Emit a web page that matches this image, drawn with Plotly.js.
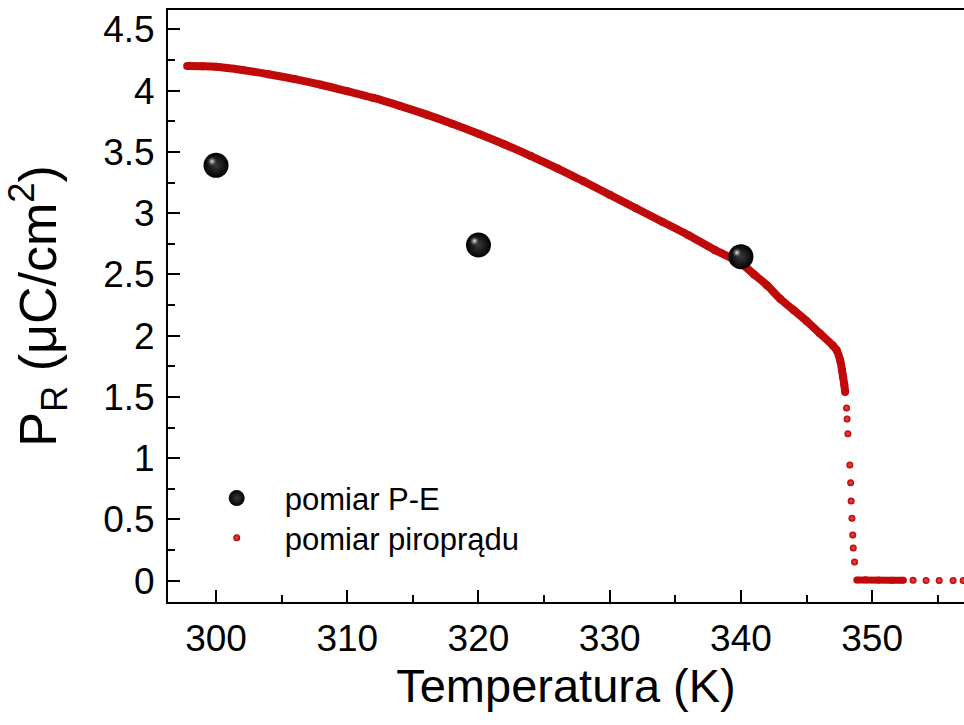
<!DOCTYPE html>
<html>
<head>
<meta charset="utf-8">
<script src="https://cdn.plot.ly/plotly-3.0.1.min.js"></script>
<style>html,body{margin:0;padding:0;background:#fff;}#chart{width:964px;height:725px;}</style>
</head>
<body>
<div id="chart"></div>
<script>
// P-E measurement (black spheres)
const peTemp = [300, 320, 340];
const pePol = [3.39, 2.74, 2.645];

// pyroelectric measurement: continuous dense part
const pyroTempCont = [297.8, 299, 300, 302, 304, 306, 308, 310, 312, 314, 316, 318, 320, 322, 324, 326, 328, 330, 332, 334, 336, 338, 340, 341, 342, 343, 344, 345, 346, 347, 347.3, 347.56, 347.7, 347.79, 347.88, 347.94];
const pyroPolCont = [4.200, 4.199, 4.194, 4.168, 4.134, 4.094, 4.048, 3.995, 3.94, 3.876, 3.806, 3.730, 3.648, 3.560, 3.466, 3.366, 3.260, 3.150, 3.04, 2.93, 2.82, 2.70, 2.59, 2.50, 2.41, 2.30, 2.21, 2.12, 2.02, 1.92, 1.88, 1.80, 1.72, 1.66, 1.60, 1.54];
// separated points of the drop at the transition
const pyroTempDrop = [348.05, 348.09, 348.15, 348.30, 348.36, 348.40, 348.46, 348.52, 348.56, 348.66];
const pyroPolDrop = [1.41, 1.32, 1.20, 0.945, 0.80, 0.65, 0.51, 0.373, 0.266, 0.152];
// dense flat part above the transition
const pyroTempFlat = [348.83, 349.5, 350.5, 351.5, 352.38];
const pyroPolFlat = [0.005, 0.008, 0.006, 0.004, 0.004];
// sparse tail
const pyroTempTail = [353.12, 354.11, 355.11, 356.17, 356.94];
const pyroPolTail = [0.003, 0.002, 0.002, 0.002, 0.002];

const xTickVals = [300, 310, 320, 330, 340, 350];
const yTickVals = [0, 0.5, 1, 1.5, 2, 2.5, 3, 3.5, 4, 4.5];
const yTickText = ['0', '0.5', '1', '1.5', '2', '2.5', '3', '3.5', '4', '4.5'];

const RED = '#c00a0a';
const FONT = 'Liberation Sans, Arial, sans-serif';

const xRange = [296.34, 357.0];
const yRange = [-0.174, 4.658];
// highlight overlay axes, shifted by a few pixels (up-left)
const pxPerK = 796 / (xRange[1] - xRange[0]);
const pxPerU = 592 / (yRange[1] - yRange[0]);
const dx = 4 / pxPerK, dy = 4 / pxPerU;

const traces = [
  {x: pyroTempCont, y: pyroPolCont, mode: 'lines+markers', line: {color: RED, width: 8, shape: 'spline'},
   marker: {color: RED, size: 8}, showlegend: false, hoverinfo: 'skip'},
  {x: pyroTempFlat, y: pyroPolFlat, mode: 'lines+markers', line: {color: RED, width: 7},
   marker: {color: RED, size: 7}, showlegend: false, hoverinfo: 'skip'},
  {x: pyroTempDrop.concat(pyroTempTail), y: pyroPolDrop.concat(pyroPolTail), mode: 'markers',
   name: 'pomiar piroprądu', legend: 'legend2',
   marker: {color: '#b80000', size: 7, gradient: {type: 'radial', color: '#e85050'}}},
  {x: peTemp, y: pePol, mode: 'markers', name: 'pomiar P-E', legend: 'legend',
   marker: {color: '#000', size: 25, gradient: {type: 'radial', color: '#3a3a3a'}}},
  {x: peTemp, y: pePol, mode: 'markers', xaxis: 'x2', yaxis: 'y2', showlegend: false, hoverinfo: 'skip',
   marker: {color: 'rgba(80,80,80,0)', size: 10, gradient: {type: 'radial', color: '#f4f4f4'}}}
];

const legendBase = {xanchor: 'left', yanchor: 'middle', bgcolor: 'rgba(0,0,0,0)',
  font: {size: 31, family: FONT}, itemwidth: 86, tracegroupgap: 0};

const layout = {
  width: 964, height: 725,
  margin: {l: 168, r: 0, t: 10, b: 123},
  paper_bgcolor: '#fff', plot_bgcolor: '#fff',
  font: {family: FONT, color: '#000'},
  showlegend: true,
  legend: Object.assign({x: 0.026, y: 0.175}, legendBase),
  legend2: Object.assign({x: 0.026, y: 0.108}, legendBase),
  xaxis: {
    range: xRange, showgrid: false, zeroline: false,
    showline: true, linecolor: '#000', linewidth: 2, mirror: true,
    ticks: 'inside', ticklen: 12, tickwidth: 2, tickcolor: '#000',
    tickvals: xTickVals, ticklabelstandoff: 3,
    minor: {dtick: 5, tick0: 295, ticks: 'inside', ticklen: 7, tickwidth: 2, tickcolor: '#000'},
    tickfont: {size: 37, family: FONT},
    title: {text: 'Temperatura (K)', font: {size: 47, family: FONT}, standoff: 8}
  },
  yaxis: {
    range: yRange, showgrid: false, zeroline: false,
    showline: true, linecolor: '#000', linewidth: 2, mirror: false,
    ticks: 'inside', ticklen: 12, tickwidth: 2, tickcolor: '#000',
    tickvals: yTickVals, ticktext: yTickText, ticklabelstandoff: 4,
    minor: {dtick: 0.25, tick0: 0, ticks: 'inside', ticklen: 7, tickwidth: 2, tickcolor: '#000'},
    tickfont: {size: 37, family: FONT},
    title: {text: 'P<sub>R</sub> (μC/cm<sup>2</sup>)', font: {size: 52, family: FONT}, standoff: 30}
  },
  xaxis2: {overlaying: 'x', range: [xRange[0] + dx, xRange[1] + dx], visible: false},
  yaxis2: {overlaying: 'y', range: [yRange[0] - dy, yRange[1] - dy], visible: false}
};

Plotly.newPlot('chart', traces, layout, {staticPlot: true});
</script>
</body>
</html>
